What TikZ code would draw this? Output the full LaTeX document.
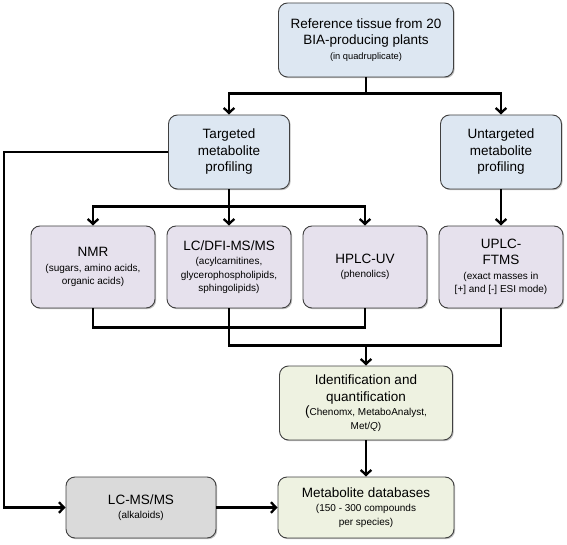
\documentclass[tikz,border=0pt]{standalone}
\usepackage{fontspec}
\setmainfont{Liberation Sans}
\usepackage{xcolor}
\usetikzlibrary{arrows.meta,shadows}

\definecolor{tissueblue}{HTML}{DDE7F2}
\definecolor{methviolet}{HTML}{E6E1ED}
\definecolor{idgreen}{HTML}{EEF2E1}
\definecolor{alkgrey}{HTML}{DADADA}
\newcommand{\subtxt}{\fontsize{10}{12.5}\selectfont}
\newcommand{\tinytxt}{\fontsize{9.3}{12}\selectfont}

\begin{document}
\begin{tikzpicture}[x=1pt, y=1pt,
    prof block/.style={draw=black!75, line width=0.9pt, rounded corners=9pt, align=center, inner sep=0pt, font=\fontsize{13.5}{16.5}\selectfont, drop shadow={shadow xshift=1.2pt, shadow yshift=-1.2pt, fill=black!50, opacity=0.5}},
    link/.style={line width=2.3pt},
    arr/.style={link, -{Straight Barb[length=5pt,width=10.5pt]}}]
    \useasboundingbox (0,0) rectangle (567,-545);

    \node[prof block, fill=tissueblue, minimum width=175pt, minimum height=74pt] (tissue) at (366,-40) {Reference tissue from 20\\BIA-producing plants\\[-2pt]\tinytxt(in quadruplicate)};
    \node[prof block, fill=tissueblue, minimum width=121pt, minimum height=74pt] (targeted) at (229,-152) {Targeted\\metabolite\\profiling};
    \node[prof block, fill=tissueblue, minimum width=121pt, minimum height=74pt] (untargeted) at (501,-152) {Untargeted\\metabolite\\profiling};

    \node[prof block, fill=methviolet, minimum width=124pt, minimum height=82pt] (nmr) at (93,-267) {NMR\\[-2pt]\subtxt(sugars, amino acids,\\[-3pt]\subtxt organic acids)};
    \node[prof block, fill=methviolet, minimum width=124pt, minimum height=82pt] (lcdfi) at (229,-267) {LC/DFI-MS/MS\\[-2pt]\subtxt(acylcarnitines,\\[-3pt]\subtxt glycerophospholipids,\\[-3pt]\subtxt sphingolipids)};
    \node[prof block, fill=methviolet, minimum width=124pt, minimum height=82pt] (hplc) at (365,-267) {HPLC-UV\\[-2pt]\subtxt(phenolics)};
    \node[prof block, fill=methviolet, minimum width=124pt, minimum height=82pt] (uplc) at (501,-267) {UPLC-\\FTMS\\[-2pt]\subtxt(exact masses in\\[-3pt]\subtxt [+] and [-] ESI mode)};

    \node[prof block, fill=idgreen, minimum width=173pt, minimum height=74pt] (ident) at (366,-403) {Identification and\\quantification\\[-2pt](\subtxt Chenomx, MetaboAnalyst,\\[-3pt]\subtxt Met/\textit{Q})};
    \node[prof block, fill=idgreen, minimum width=176pt, minimum height=61pt] (metdb) at (366,-507.5) {Metabolite databases\\[-2pt]\subtxt(150 - 300 compounds\\[-3pt]\subtxt per species)};
    \node[prof block, fill=alkgrey, minimum width=150pt, minimum height=61pt] (lcms) at (141,-507.5) {LC-MS/MS\\[-2pt]\subtxt(alkaloids)};
    \coordinate (rail) at (4,0);

    \draw[arr] (tissue.south) -- ++(0,-16) -| (targeted.north);
    \draw[arr] (tissue.south) -- ++(0,-16) -| (untargeted.north);
    \draw[arr] (targeted.south) -- ++(0,-17) -| (nmr.north);
    \draw[arr] (targeted.south) -- (lcdfi.north);
    \draw[arr] (targeted.south) -- ++(0,-17) -| (hplc.north);
    \draw[arr] (untargeted.south) -- (uplc.north);
    \draw[arr] (targeted.west) -- (targeted.west -| rail) |- (lcms.west);
    \draw[link] (nmr.south) -- ++(0,-19) -| (hplc.south);
    \draw[link] (lcdfi.south) -- ++(0,-37) coordinate (merge) -| (uplc.south);
    \draw[arr] (merge -| ident.north) -- (ident.north);
    \draw[arr] (ident.south) -- (metdb.north);
    \draw[arr] (lcms.east) -- (metdb.west);

\end{tikzpicture}
\end{document}
